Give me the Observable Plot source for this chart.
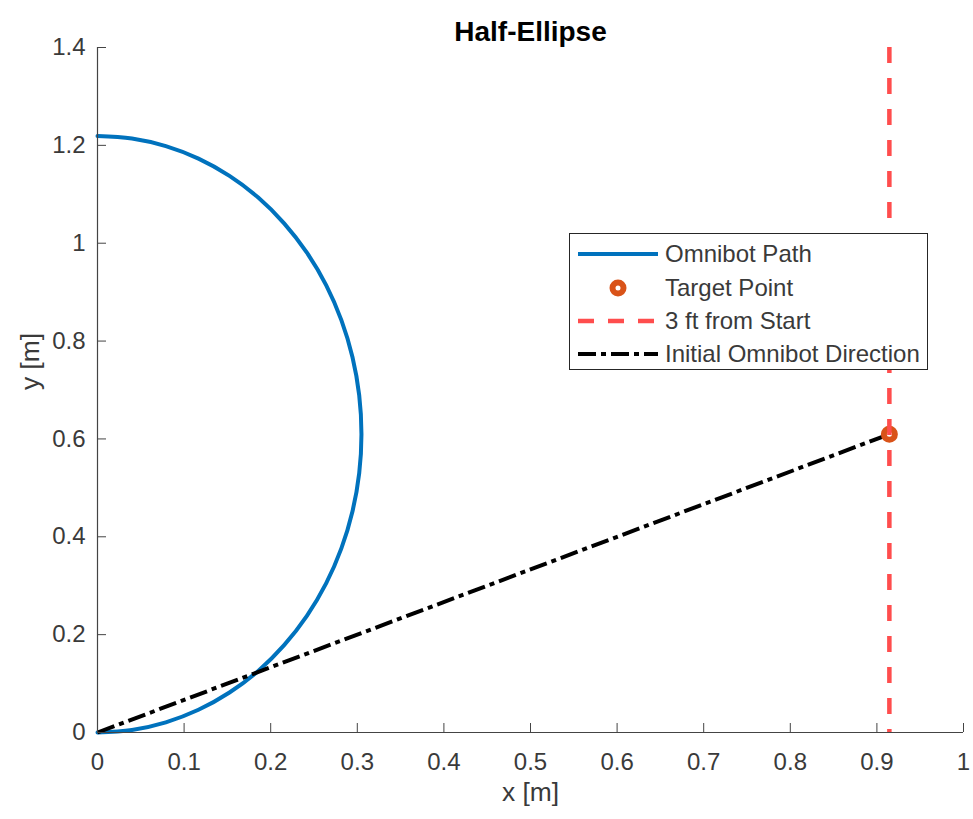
<!DOCTYPE html>
<html>
<head>
<meta charset="utf-8">
<script src="https://cdn.jsdelivr.net/npm/d3@7"></script>
<script src="https://cdn.jsdelivr.net/npm/@observablehq/plot@0.6"></script>
<style>
  html, body { margin: 0; padding: 0; background: #fff; }
  #wrap { position: relative; width: 973px; height: 819px; font-family: "Liberation Sans", Arial, sans-serif; }
  #legend { position: absolute; left: 569px; top: 233px; }
</style>
</head>
<body>
<div id="wrap"></div>
<script>
// ---- data ----
const title = "Half-Ellipse";
const xLabel = "x [m]";
const yLabel = "y [m]";

// Omnibot path (half ellipse)
const pathX = [0, 0.0398, 0.0789, 0.1166, 0.1524, 0.1856, 0.2155, 0.2418, 0.2640, 0.2816, 0.2944, 0.3022, 0.3048,
               0.3022, 0.2944, 0.2816, 0.2640, 0.2418, 0.2155, 0.1856, 0.1524, 0.1166, 0.0789, 0.0398, 0];
const pathY = [0, 0.0052, 0.0208, 0.0464, 0.0817, 0.1259, 0.1786, 0.2385, 0.3048, 0.3763, 0.4518, 0.5300, 0.6096,
               0.6892, 0.7674, 0.8429, 0.9144, 0.9807, 1.0406, 1.0933, 1.1375, 1.1728, 1.1984, 1.2140, 1.2192];

// Target point
const targetX = [0.9144];
const targetY = [0.6096];

// 3 ft from start (vertical line)
const threeFtX = [0.9144];

// Initial direction line
const dirX = [0, 0.9144];
const dirY = [0, 0.6096];

const xTicks = [0, 0.1, 0.2, 0.3, 0.4, 0.5, 0.6, 0.7, 0.8, 0.9, 1];
const yTicks = [0, 0.2, 0.4, 0.6, 0.8, 1, 1.2, 1.4];

const legendLabels = ["Omnibot Path", "Target Point", "3 ft from Start", "Initial Omnibot Direction"];

// ---- colours ----
const cBlue = "#0072BD", cOrange = "#D95319", cRed = "#FF4D4D", cBlack = "#000000", cAxis = "#3a3a3a";

const pathData = pathX.map((x, i) => ({x, y: pathY[i]}));
const dirData = dirX.map((x, i) => ({x, y: dirY[i]}));
const targetData = targetX.map((x, i) => ({x, y: targetY[i]}));

const chart = Plot.plot({
  width: 973,
  height: 819,
  marginLeft: 97,
  marginRight: 10,
  marginTop: 47,
  marginBottom: 87,
  x: {domain: [0, 1]},
  y: {domain: [0, 1.4]},
  style: {fontFamily: "'Liberation Sans', Arial, sans-serif", fontSize: "24px", color: cAxis, background: "#fff"},
  marks: [
    Plot.line(pathData, {x: "x", y: "y", stroke: cBlue, strokeWidth: 4, curve: "catmull-rom"}),
    Plot.line(dirData, {x: "x", y: "y", stroke: cBlack, strokeWidth: 4, strokeDasharray: "18,5,5,5", strokeLinecap: "butt"}),
    Plot.dot(targetData, {x: "x", y: "y", r: 5.5, stroke: cOrange, strokeWidth: 6, fill: "#fff"}),
    Plot.ruleX(threeFtX, {stroke: cRed, strokeWidth: 4.5, strokeDasharray: "16,15"}),
    Plot.ruleX([0], {stroke: "#444", strokeWidth: 1.2}),
    Plot.ruleY([0], {stroke: "#444", strokeWidth: 1.2}),
    Plot.axisX({ticks: xTicks, tickSize: -9, tickPadding: 29, tickFormat: d => String(d), label: null, stroke: "#444", fill: cAxis}),
    Plot.axisY({ticks: yTicks, tickSize: -9, tickPadding: 21, tickFormat: d => String(d), label: null, stroke: "#444", fill: cAxis}),
    Plot.text([xLabel], {frameAnchor: "bottom", dy: 68, fontSize: 26.4, fill: cAxis}),
    Plot.text([yLabel], {frameAnchor: "left", dx: -67, rotate: -90, fontSize: 26.4, fill: cAxis}),
    Plot.text([title], {frameAnchor: "top", dy: -26, fontSize: 28, fontWeight: "bold", fill: "#000"})
  ]
});

const wrap = document.getElementById("wrap");
wrap.appendChild(chart);

// ---- legend ----
const W = 359, H = 137;
const rowsY = [21, 55, 88, 121];
const lg = d3.create("svg").attr("id", "legend").attr("width", W).attr("height", H)
  .attr("font-family", "'Liberation Sans', Arial, sans-serif").attr("font-size", 24);
lg.append("rect").attr("x", 0.5).attr("y", 0.5).attr("width", W - 1).attr("height", H - 1)
  .attr("fill", "#fff").attr("stroke", "#262626").attr("stroke-width", 1);
lg.append("line").attr("x1", 9).attr("x2", 89).attr("y1", rowsY[0]).attr("y2", rowsY[0])
  .attr("stroke", cBlue).attr("stroke-width", 4);
lg.append("circle").attr("cx", 49).attr("cy", rowsY[1]).attr("r", 5.5)
  .attr("fill", "#fff").attr("stroke", cOrange).attr("stroke-width", 6);
lg.append("line").attr("x1", 9).attr("x2", 89).attr("y1", rowsY[2]).attr("y2", rowsY[2])
  .attr("stroke", cRed).attr("stroke-width", 4.5).attr("stroke-dasharray", "16,14");
lg.append("line").attr("x1", 9).attr("x2", 89).attr("y1", rowsY[3]).attr("y2", rowsY[3])
  .attr("stroke", cBlack).attr("stroke-width", 4).attr("stroke-dasharray", "18,5,5,5");
legendLabels.forEach((t, i) => {
  lg.append("text").attr("x", 96).attr("y", rowsY[i]).attr("dy", "0.35em").attr("fill", cAxis).text(t);
});
wrap.appendChild(lg.node());
</script>
</body>
</html>
